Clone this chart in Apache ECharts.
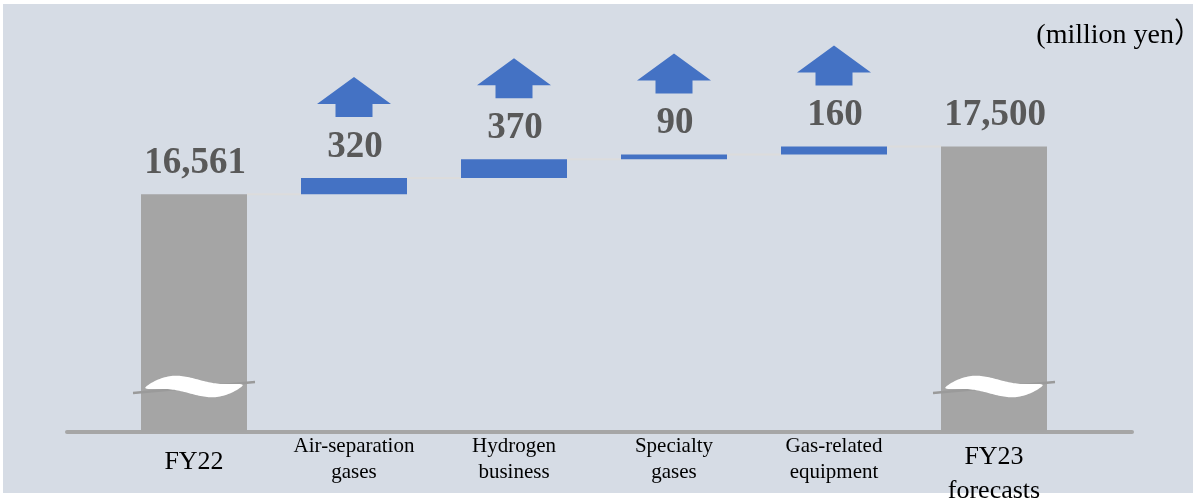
<!DOCTYPE html>
<html>
<head>
<meta charset="utf-8">
<script src="https://cdn.jsdelivr.net/npm/echarts@6/dist/echarts.min.js"></script>
<style>
  html, body { margin: 0; padding: 0; background: #ffffff; }
  #wrap { position: relative; width: 1193px; height: 498px; overflow: hidden; }
  #slide { position: absolute; left: 3px; top: 4px; width: 1190px; height: 489px; background: #d6dce5; }
  #chart { position: absolute; left: 0; top: 0; width: 1193px; height: 498px; }
</style>
</head>
<body>
<div id="wrap">
  <div id="slide"></div>
  <div id="chart"></div>
</div>
<script>
// Operating profit bridge, FY22 -> FY23 forecasts (million yen)
const categories = ['FY22', 'Air-separation\ngases', 'Hydrogen\nbusiness', 'Specialty\ngases', 'Gas-related\nequipment', 'FY23\nforecasts'];
const startTotal = 16561;
const changes = [320, 370, 90, 160];
const endTotal = 17500;
// value axis is cut (shown by the wave break on the total bars)
const axisMin = 11900;
const axisMax = 18000;

// rows: [categoryIndex, low, high, kind(0 total / 1 change), labelValue]
const rows = [];
rows.push([0, axisMin, startTotal, 0, startTotal]);
let running = startTotal;
changes.forEach(function (c, i) {
  rows.push([i + 1, running, running + c, 1, c]);
  running += c;
});
rows.push([categories.length - 1, axisMin, endTotal, 0, endTotal]);

const GRAY = '#a5a5a5';
const BLUE = '#4472c4';
const LABEL = '#595959';

function fmt(v) { return v.toLocaleString('en-US'); }

function renderItem(params, api) {
  const idx = api.value(0);
  const lo = api.value(1);
  const hi = api.value(2);
  const kind = api.value(3);
  const lab = api.value(4);
  const top = api.coord([idx, hi]);
  const bottom = api.coord([idx, lo]);
  const band = api.size([1, 0])[0];
  const bw = band * 0.6625;
  const cx = top[0];
  const children = [];

  // connector to the next bar
  if (idx < categories.length - 1) {
    children.push({
      type: 'line',
      shape: { x1: cx + bw / 2, y1: top[1], x2: cx + band - bw / 2, y2: top[1] },
      style: { stroke: '#dcdcdc', lineWidth: 2 }
    });
  }

  children.push({
    type: 'rect',
    shape: { x: cx - bw / 2, y: top[1], width: bw, height: bottom[1] - top[1] },
    style: { fill: kind === 0 ? GRAY : BLUE }
  });

  children.push({
    type: 'text',
    style: {
      text: kind === 0 ? fmt(lab) : String(lab),
      x: cx + 1, y: top[1] - 31,
      align: 'center', verticalAlign: 'middle',
      font: 'bold 37px "Liberation Serif"',
      fill: LABEL
    }
  });

  if (kind === 1) {
    // upward arrow above the change label
    const b = top[1] - 61;
    children.push({
      type: 'polygon',
      shape: {
        points: [
          [cx - 18.5, b], [cx + 18.5, b], [cx + 18.5, b - 13], [cx + 37, b - 13],
          [cx, b - 40], [cx - 37, b - 13], [cx - 18.5, b - 13]
        ]
      },
      style: { fill: BLUE }
    });
  } else {
    // axis-break wave across the total bar
    const yc = bottom[1] - 45;
    children.push({
      type: 'line',
      shape: { x1: cx - 61, y1: yc + 6, x2: cx + 61, y2: yc - 5 },
      style: { stroke: '#9a9a9a', lineWidth: 2.5 }
    });
    const upper = [], lower = [];
    const N = 60;
    for (let k = 0; k <= N; k++) {
      const t = k / N;
      const x = cx - 49 + 98 * t;
      const m = yc + 1 - 3 * t - 4.5 * Math.sin(2 * Math.PI * t);
      const h = 8 * Math.pow(Math.sin(Math.PI * t), 0.6);
      upper.push([x, m - h]);
      lower.unshift([x, m + h]);
    }
    children.push({
      type: 'polygon',
      shape: { points: upper.concat(lower) },
      style: { fill: '#ffffff' }
    });
  }

  return { type: 'group', children: children };
}

const chart = echarts.init(document.getElementById('chart'), null, { renderer: 'canvas' });

chart.setOption({
  backgroundColor: 'transparent',
  animation: false,
  title: {
    text: '(million yen）',
    right: -14,
    top: 17,
    textStyle: { fontFamily: '"Liberation Serif", "Noto Sans CJK JP"', fontSize: 28, fontWeight: 'normal', color: '#000000' }
  },
  grid: [
    { left: 114, right: 119, top: 121, bottom: 66, containLabel: false, outerBoundsMode: 'none' },
    { left: 67, right: 61, top: 121, bottom: 66, containLabel: false, outerBoundsMode: 'none' }
  ],
  xAxis: [
    {
      type: 'category',
      gridIndex: 0,
      data: categories,
      axisLine: { show: false },
      axisTick: { show: false },
      axisLabel: {
        interval: 0,
        margin: 1,
        fontFamily: '"Liberation Serif"',
        color: '#000000',
        formatter: function (v, i) {
          const parts = v.split('\n');
          if (i === 0) return '{one|' + parts[0] + '}';
          if (i === categories.length - 1) return '{b1|' + parts[0] + '}\n{b2|' + parts[1] + '}';
          return parts.map(function (p) { return '{s|' + p + '}'; }).join('\n');
        },
        rich: {
          one: { fontFamily: '"Liberation Serif"', fontSize: 26, lineHeight: 58, color: '#000000' },
          b1: { fontFamily: '"Liberation Serif"', fontSize: 26, lineHeight: 48, color: '#000000' },
          b2: { fontFamily: '"Liberation Serif"', fontSize: 26, lineHeight: 20, color: '#000000' },
          s: { fontFamily: '"Liberation Serif"', fontSize: 21, lineHeight: 26, color: '#000000' }
        }
      }
    },
    {
      type: 'value',
      gridIndex: 1,
      min: 0,
      max: 1,
      axisLine: { show: true, onZero: false, lineStyle: { color: '#a6a6a6', width: 4 } },
      axisTick: { show: false },
      axisLabel: { show: false },
      splitLine: { show: false }
    }
  ],
  yAxis: [
    { type: 'value', gridIndex: 0, min: axisMin, max: axisMax, show: false, splitLine: { show: false } },
    { type: 'value', gridIndex: 1, min: 0, max: 1, show: false, splitLine: { show: false } }
  ],
  series: [
    {
      type: 'custom',
      xAxisIndex: 0,
      yAxisIndex: 0,
      clip: false,
      renderItem: renderItem,
      encode: { x: 0, y: [1, 2] },
      data: rows
    }
  ]
});
</script>
</body>
</html>
